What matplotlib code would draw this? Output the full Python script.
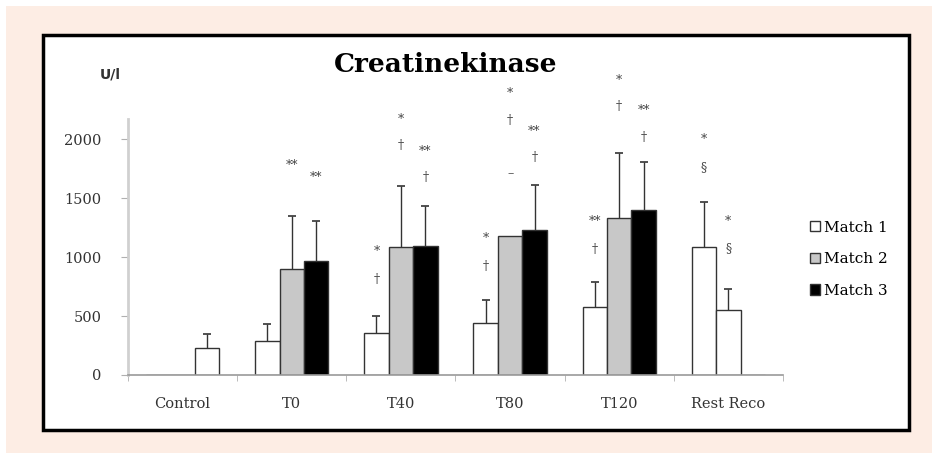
import numpy as np
import matplotlib.pyplot as plt
from matplotlib.patches import Rectangle, Patch

# data
categories = ['Control', 'T0', 'T40', 'T80', 'T120', 'Rest Reco']
series = ['Match 1', 'Match 2', 'Match 3']
match1 = [0, 290, 356, 443, 575, 1083]
match2 = [0, 900, 1083, 1180, 1331, 553]
match3 = [225, 966, 1097, 1231, 1396, 0]
err1 = [0, 140, 148, 195, 214, 385]
err2 = [0, 450, 515, 0, 555, 180]
err3 = [125, 340, 333, 376, 410, 0]

# significance marks: (category, series slot, text, y level)
marks = [
    (1, 1, '**', 1778), (1, 2, '**', 1675),
    (2, 0, '*', 1043), (2, 0, '†', 812),
    (2, 1, '*', 2162), (2, 1, '†', 1949),
    (2, 2, '**', 1897), (2, 2, '†', 1675),
    (3, 0, '*', 1154), (3, 0, '†', 923),
    (3, 1, '*', 2385), (3, 1, '†', 2154), (3, 1, '–', 1709),
    (3, 2, '**', 2068), (3, 2, '†', 1846),
    (4, 0, '**', 1299), (4, 0, '†', 1068),
    (4, 1, '*', 2496), (4, 1, '†', 2274),
    (4, 2, '**', 2239), (4, 2, '†', 2017),
    (5, 0, '*', 2000), (5, 0, '§', 1761),
    (5, 1, '*', 1299), (5, 1, '§', 1068),
]

W, H = 932, 453
fig = plt.figure(figsize=(W / 100, H / 100), dpi=100)
fig.patch.set_facecolor('#fdede4')

# white strips at top/left and the framed white panel
fig.patches.append(Rectangle((0, 1 - 6 / H), 1, 6 / H, transform=fig.transFigure,
                             facecolor='white', edgecolor='none', zorder=-2))
fig.patches.append(Rectangle((0, 0), 6 / W, 1, transform=fig.transFigure,
                             facecolor='white', edgecolor='none', zorder=-2))
fig.patches.append(Rectangle((43 / W, 1 - 429.5 / H), (909 - 43) / W, (429.5 - 35) / H,
                             transform=fig.transFigure, facecolor='white',
                             edgecolor='black', linewidth=2.5, zorder=-1))

ax = fig.add_axes([128 / W, 78 / H, (783 - 128) / W, (375 - 119) / H])
ax.set_facecolor('none')
ax.set_zorder(2)

x = np.arange(len(categories))
bw = 0.224
values = [match1, match2, match3]
errs = [err1, err2, err3]
fills = [['white'] * 6,
         ['#c8c8c8'] * 5 + ['white'],
         ['white'] + ['black'] * 5]

for i in range(3):
    pos = x + (i - 1) * bw
    ax.bar(pos, values[i], bw, color=fills[i], edgecolor='#333333', linewidth=1, zorder=2)
    e = np.array(errs[i])
    keep = e > 0
    eb = ax.errorbar(pos[keep], np.array(values[i])[keep],
                     yerr=[np.zeros(keep.sum()), e[keep]],
                     fmt='none', ecolor='#333333', elinewidth=1, capsize=3,
                     capthick=1.2, zorder=3)
    eb[1][0].set_visible(False)  # no cap at the bar top

for c, s, txt, yv in marks:
    ax.text(c + (s - 1) * bw, yv, txt, ha='center', va='center', fontsize=9,
            family='DejaVu Serif', color='#444444', clip_on=False)

ax.set_xlim(-0.5, 5.5)
ax.set_ylim(0, 2170)
ax.set_yticks([0, 500, 1000, 1500, 2000])
ax.set_xticks(x)
ax.set_xticklabels(categories)
ax.set_xticks(np.arange(-0.5, 6, 1), minor=True)
ax.tick_params(axis='x', which='major', length=0, pad=16)
ax.tick_params(axis='x', which='minor', length=4, color='#b0b0b0', direction='out')
ax.tick_params(axis='y', length=5, color='#b0b0b0', pad=14)
for lab in ax.get_xticklabels() + ax.get_yticklabels():
    lab.set_family('DejaVu Serif')
    lab.set_fontsize(10.5)
    lab.set_color('#333333')

for side in ['top', 'right']:
    ax.spines[side].set_visible(False)
ax.spines['left'].set_color('#d0d0d0')
ax.spines['left'].set_linewidth(2)
ax.spines['bottom'].set_color('#9a9a9a')
ax.spines['bottom'].set_linewidth(1.2)

fig.text(446 / W, 1 - 64 / H, 'Creatinekinase', ha='center', va='center',
         fontsize=19, fontweight='bold', family='DejaVu Serif', color='black')
fig.text(110 / W, 1 - 74 / H, 'U/l', ha='center', va='center',
         fontsize=10, fontweight='bold', family='DejaVu Sans', color='#333333')

handles = [Patch(facecolor='white', edgecolor='#333333'),
           Patch(facecolor='#c8c8c8', edgecolor='#333333'),
           Patch(facecolor='black', edgecolor='#333333')]
fig.legend(handles, series, loc='upper left', bbox_to_anchor=(802 / W, 1 - 213 / H),
           frameon=False, handlelength=0.65, handleheight=0.65, handletextpad=0.3,
           labelspacing=1.15, borderpad=0, prop={'family': 'DejaVu Serif', 'size': 11})

fig.savefig('out.png', dpi=100, facecolor=fig.get_facecolor())
